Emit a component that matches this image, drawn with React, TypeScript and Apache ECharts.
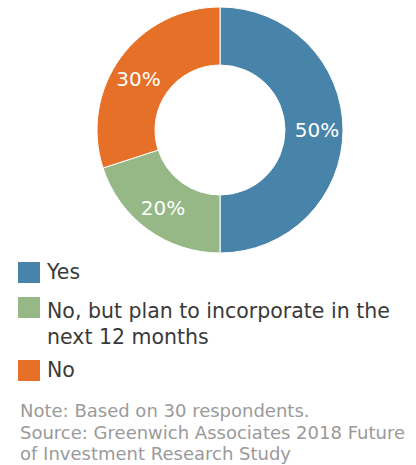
import React, { useEffect, useRef } from "react";
import * as echarts from "echarts";

const categories = ["Yes", "No, but plan to incorporate in the\nnext 12 months", "No"];
const values = [50, 20, 30];
const colors = ["#4884aa", "#95b886", "#e67028"];
const noteLines = [
  "Note: Based on 30 respondents.",
  "Source: Greenwich Associates 2018 Future",
  "of Investment Research Study",
];

const FONT = "'DejaVu Sans', sans-serif";

export default function App() {
  const ref = useRef<HTMLDivElement>(null);
  useEffect(() => {
    document.body.style.margin = "0";
    const chart = echarts.init(ref.current!, null, { renderer: "svg" });
    const squareTops = [262, 297, 360];
    const textTops = [259, 298, 357];
    const noteTops = [400, 422, 443];
    const legendGraphics: any[] = [];
    categories.forEach((c, i) => {
      legendGraphics.push({
        type: "rect",
        left: 18,
        top: squareTops[i],
        shape: { width: 22, height: 21 },
        style: { fill: colors[i] },
      });
      legendGraphics.push({
        type: "text",
        left: 47,
        top: textTops[i],
        style: {
          text: c,
          fill: "#3a3a3a",
          font: `20.5px ${FONT}`,
          lineHeight: 26,
        },
      });
    });
    noteLines.forEach((t, i) => {
      legendGraphics.push({
        type: "text",
        left: 20,
        top: noteTops[i],
        style: { text: t, fill: "#9a9a9a", font: `18px ${FONT}`, lineHeight: 21 },
      });
    });
    chart.setOption({
      animation: false,
      series: [
        {
          type: "pie",
          center: [220, 130],
          radius: [65, 123],
          startAngle: 90,
          clockwise: true,
          label: {
            show: true,
            position: "inside",
            formatter: "{c}%",
            color: "#ffffff",
            fontSize: 20,
            fontFamily: FONT,
          },
          labelLine: { show: false },
          itemStyle: { borderColor: "#ffffff", borderWidth: 1 },
          emphasis: { disabled: true },
          data: categories.map((c, i) => ({
            name: c,
            value: values[i],
            itemStyle: { color: colors[i] },
            label: i === 2 ? { offset: [-3, 6] } : undefined,
          })),
        },
      ],
      graphic: legendGraphics,
    });
    return () => chart.dispose();
  }, []);
  return <div ref={ref} style={{ width: 416, height: 465 }} />;
}
